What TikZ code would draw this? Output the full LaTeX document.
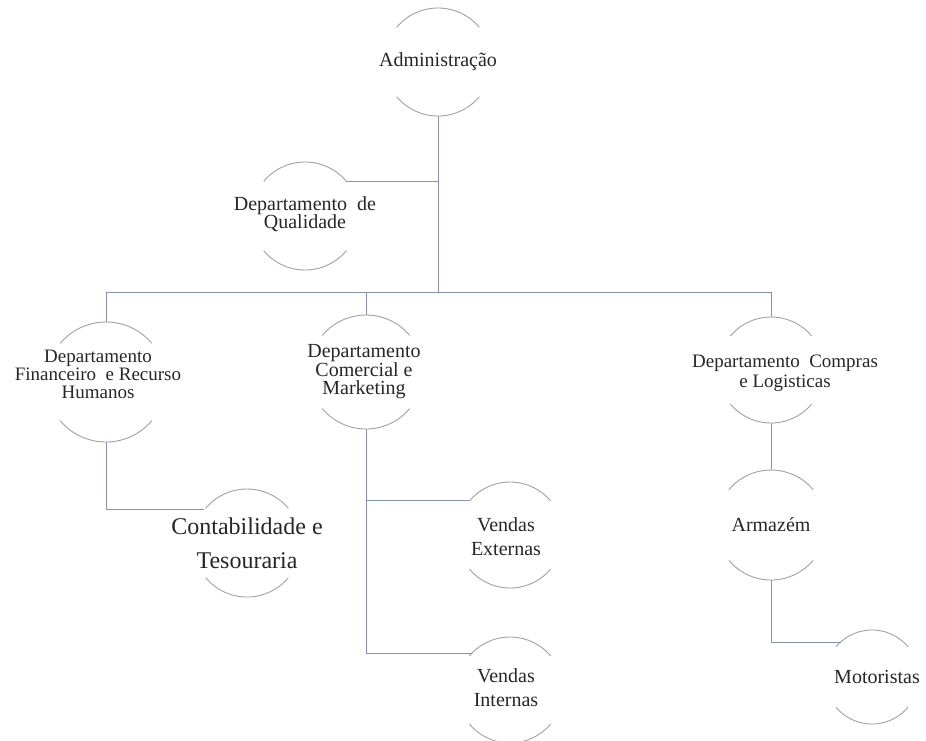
\documentclass[tikz,border=0pt]{standalone}
\usepackage{fontspec}
\setmainfont{Liberation Serif}
\definecolor{linkblue}{RGB}{132,148,176}
\definecolor{ringgray}{RGB}{160,160,166}
\begin{document}
\begin{tikzpicture}[x=1pt, y=-1pt,
    dept node/.style={circle, minimum size=#1, inner sep=0pt, outer sep=0pt},
    txt/.style={align=center, text=black!85, font=\fontsize{20}{18.5}\selectfont},
    link/.style={draw=linkblue, line width=0.9pt},
    ring/.style={draw=ringgray, line width=0.9pt}]
  \useasboundingbox (0,0) rectangle (926,740);

  \node[dept node=108pt, label={[txt]center:Administração}] (adm) at (438,62) {};
  \node[dept node=108pt, label={[txt, yshift=2pt]center:Departamento~ de\\Qualidade}] (qual) at (305,216) {};
  \node[dept node=120pt, label={[txt, xshift=-8pt, yshift=8pt, font=\fontsize{19}{18}\selectfont]center:Departamento\\Financeiro~ e Recurso\\Humanos}] (fin) at (106,382) {};
  \node[dept node=114pt, label={[txt, xshift=-2pt]center:Departamento\\Comercial e\\Marketing}] (com) at (366,372) {};
  \node[dept node=106pt, label={[txt, xshift=14pt, yshift=-3pt, font=\fontsize{19}{20}\selectfont]center:Departamento~ Compras\\e Logisticas}] (compras) at (771,370) {};
  \node[dept node=108pt, label={[txt, font=\fontsize{24}{34}\selectfont]center:Contabilidade e\\Tesouraria}] (cont) at (247,543) {};
  \node[dept node=106pt, label={[txt, xshift=-4pt, yshift=-2pt, font=\fontsize{20}{24}\selectfont]center:Vendas\\Externas}] (ext) at (510,535) {};
  \node[dept node=106pt, label={[txt, xshift=-4pt, yshift=2pt, font=\fontsize{20}{24}\selectfont]center:Vendas\\Internas}] (int) at (510,690) {};
  \node[dept node=110pt, label={[txt]center:Armazém}] (arm) at (771,525) {};
  \node[dept node=94pt, label={[txt, xshift=5pt]center:Motoristas}] (mot) at (872,677) {};

  \coordinate (hub) at (438,292);

  % top and bottom arcs only
  \foreach \n/\r in {adm/54, qual/54, fin/60, com/57, compras/53, cont/54, ext/53, int/53, arm/55, mot/47}{
    \draw[ring] (\n.40) arc[start angle=40, end angle=140, radius=\r pt];
    \draw[ring] (\n.220) arc[start angle=220, end angle=320, radius=\r pt];
  }

  \path[link]
    (adm) -- (hub)
    (qual.40) -- (qual.40 -| hub)
    (fin) -- (fin |- hub) -- (compras |- hub) -- (compras)
    (com) -- (com |- hub)
    (fin) |- (cont.142)
    (com) |- (ext.140)
    (com) |- (int.136)
    (compras) -- (arm)
    (arm) |- (mot.132);
\end{tikzpicture}
\end{document}
